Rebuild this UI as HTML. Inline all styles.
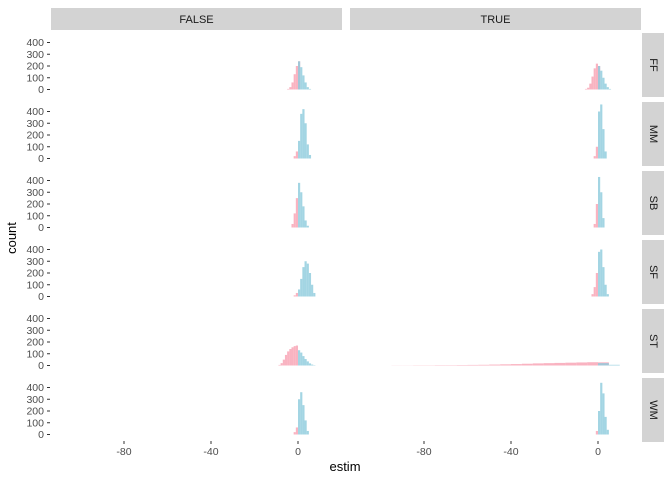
<!DOCTYPE html>
<html><head><meta charset="utf-8"><style>
body{margin:0;background:#fff;font-family:"Liberation Sans",sans-serif}
</style></head><body>
<svg id="c" width="672" height="480" xmlns="http://www.w3.org/2000/svg"></svg>
<script>
const cols = ["FALSE","TRUE"];
const rows = ["FF","MM","SB","SF","ST","WM"];
const xTicks = [-80,-40,0];
const yTicks = [0,100,200,300,400];
const pinkStart = [[-5,-6],[-2,-2],[-3,-2],[-2,-3],[-9,-95],[-2,-1]];
const pinkCounts = [
 [[5,20,60,130,200,240],[5,15,50,110,180,220,200]],
 [[20,60],[20,100]],
 [[30,120,250],[30,200]],
 [[10,30],[20,80,200]],
 [[5,20,50,90,120,140,155,165,170],[1,1,2,2,3,3,4,5,6,8,10,12,15,18,20,22,24,26,28,27]],
 [[20,60],[30]]];
const blueStart = [[0,0],[0,0],[0,0],[0,0],[0,0],[0,0]];
const blueCounts = [
 [[240,190,120,60,20,5],[200,160,100,50,20,5]],
 [[150,380,420,300,120,30],[400,460,250,60]],
 [[380,300,180,60,15],[430,300,80]],
 [[60,150,250,300,280,200,100,30],[380,400,250,100,20]],
 [[130,110,80,55,35,18,8,3],[20,6]],
 [[300,360,250,120,30],[200,440,350,150,40]]];
const binW = [[1,1],[1,1],[1,1],[1,1],[1,5],[1,1]];

const svg=document.getElementById('c');
const NS="http://www.w3.org/2000/svg";
function mk(t,a,p){const e=document.createElementNS(NS,t);for(const k in a)e.setAttribute(k,a[k]);(p||svg).appendChild(e);return e;}
const panelX=[51,350], panelW=291, zeroX=[298,598], pxPer=87/40;
const panelTop=33, panelH=64, rowStep=69;
function xs(c,v){return zeroX[c]+v*pxPer;}
function ys(r,v){return panelTop+rowStep*r+56.5-v*47/400;}

cols.forEach((c,ci)=>{
  const g=mk('g',{});
  
  
  mk('rect',{x:panelX[ci],y:8,width:panelW,height:22,fill:'#d3d3d3'},g);
  const t=mk('text',{x:panelX[ci]+panelW/2,y:23,'text-anchor':'middle','font-size':11,fill:'#1a1a1a'},g);t.textContent=c;
});
rows.forEach((r,ri)=>{
  const y0=panelTop+rowStep*ri;
  const g=mk('g',{});
  
  
  mk('rect',{x:642,y:y0,width:22,height:panelH,fill:'#d3d3d3'},g);
  const t=mk('text',{x:653,y:y0+panelH/2,'text-anchor':'middle','font-size':11,fill:'#1a1a1a',transform:`rotate(90 653 ${y0+panelH/2})`,'dominant-baseline':'central'},g);t.textContent=r;
  yTicks.forEach(v=>{
    const yy=ys(ri,v);
    mk('line',{x1:47,x2:50,y1:yy,y2:yy,stroke:'#333','stroke-width':1});
    const tt=mk('text',{x:44,y:yy+3.5,'text-anchor':'end','font-size':10.5,fill:'#4d4d4d'});
    
    
    tt.textContent=v;
  });
  cols.forEach((c,ci)=>{
    const w=binW[ri][ci];
    const draw=(start,counts,col,name)=>{
      counts.forEach((v,i)=>{
        const x1=xs(ci,start+i*w), x2=xs(ci,start+(i+1)*w);
        const b=mk('rect',{x:x1,y:ys(ri,v),width:x2-x1,height:ys(ri,0)-ys(ri,v),fill:col,'fill-opacity':0.8});
        
        
      });
    };
    draw(pinkStart[ri][ci],pinkCounts[ri][ci],'#f8a0b2','bar-pink');
    draw(blueStart[ri][ci],blueCounts[ri][ci],'#8ccadc','bar-blue');
  });
});
cols.forEach((c,ci)=>{
  xTicks.forEach(v=>{
    const xx=xs(ci,v);
    mk('line',{x1:xx,x2:xx,y1:441,y2:444,stroke:'#333','stroke-width':1});
    const t=mk('text',{x:xx,y:455,'text-anchor':'middle','font-size':10.5,fill:'#4d4d4d'});
    
    
    t.textContent=v;
  });
});
const xt=mk('text',{x:345,y:471,'text-anchor':'middle','font-size':13,fill:'#000'});


xt.textContent='estim';
const yt=mk('text',{x:16,y:238,'text-anchor':'middle','font-size':13,fill:'#000',transform:'rotate(-90 16 238)'});


yt.textContent='count';
</script>
</body></html>
